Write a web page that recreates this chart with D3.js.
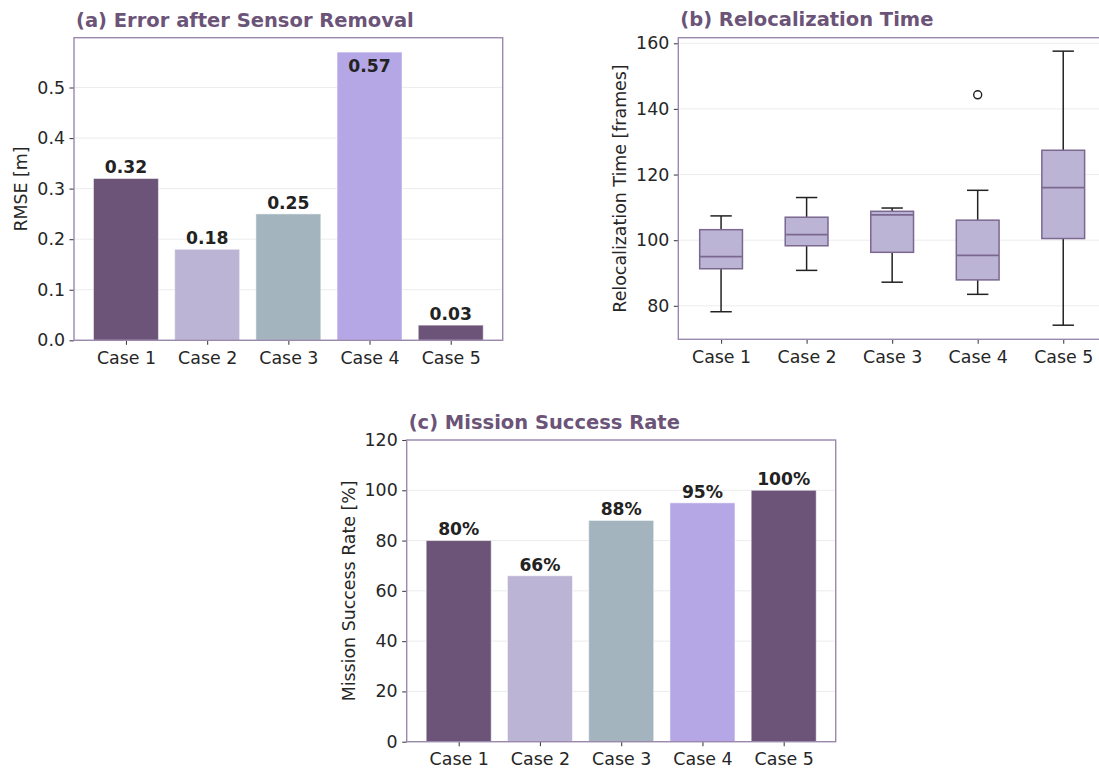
<!DOCTYPE html>
<html>
<head>
<meta charset="utf-8">
<script src="https://cdn.jsdelivr.net/npm/d3@7"></script>
<style>
  html, body { margin: 0; padding: 0; background: #fff; }
  svg { display: block; font-family: "DejaVu Sans", sans-serif; }
</style>
</head>
<body>
<svg id="chart" width="1099" height="772"></svg>
<script>
// ---------------- data ----------------
const cases = ["Case 1", "Case 2", "Case 3", "Case 4", "Case 5"];
const rmseValues = [0.32, 0.18, 0.25, 0.57, 0.03];
const successValues = [80, 66, 88, 95, 100];
const relocLowWhisker = [78.2, 90.8, 87.2, 83.5, 74.1];
const relocQ1 = [91.3, 98.3, 96.3, 87.9, 100.5];
const relocMedian = [95.0, 101.7, 107.7, 95.4, 116.0];
const relocQ3 = [103.2, 107.0, 108.8, 106.1, 127.4];
const relocHighWhisker = [107.4, 113.0, 109.8, 115.2, 157.6];
const relocOutliers = [[], [], [], [144.3], []];
const rmseTicks = [0.0, 0.1, 0.2, 0.3, 0.4, 0.5];
const relocTicks = [80, 100, 120, 140, 160];
const successTicks = [0, 20, 40, 60, 80, 100, 120];
const barColors = ["#6b5478", "#bcb4d4", "#a3b4be", "#b5a6e5", "#6b5478"];

// ---------------- style ----------------
const TITLE_COLOR = "#6b5478";
const SPINE_COLOR = "#9a88ad";
const TEXT_COLOR = "#262626";
const GRID_COLOR = "#ececec";
const TICK_FS = 17.4;
const TITLE_FS = 19.5;
const LABEL_FS = 17.2;

const svg = d3.select("#chart");

function panel(cfg) {
  const g = svg.append("g");
  const x = d3.scaleLinear().domain(cfg.xDomain).range([cfg.left, cfg.right]);
  const y = d3.scaleLinear().domain(cfg.yDomain).range([cfg.bottom, cfg.top]);

  // grid
  g.append("g").selectAll("line").data(cfg.yTicks).join("line")
    .attr("x1", cfg.left).attr("x2", cfg.right)
    .attr("y1", d => y(d)).attr("y2", d => y(d))
    .attr("stroke", GRID_COLOR).attr("stroke-width", 1);

  const marks = g.append("g");

  // axes
  const xAxis = g.append("g").attr("transform", `translate(0,${cfg.bottom})`)
    .call(d3.axisBottom(x).tickValues(cfg.xTicks).tickFormat((d, i) => cases[i]).tickSize(4.5).tickSizeOuter(0));
  const yAxis = g.append("g").attr("transform", `translate(${cfg.left},0)`)
    .call(d3.axisLeft(y).tickValues(cfg.yTicks).tickFormat(cfg.yFormat).tickSize(4.5).tickSizeOuter(0));
  [xAxis, yAxis].forEach(a => {
    a.select(".domain").remove();
    a.selectAll(".tick line").attr("stroke", "#444").attr("stroke-width", 1.1);
    a.selectAll(".tick text").attr("fill", TEXT_COLOR)
      .style("font-size", TICK_FS + "px").style("font-family", "DejaVu Sans");
  });
  xAxis.selectAll(".tick text").attr("dy", null).attr("y", 23.7);
  yAxis.selectAll(".tick text").attr("x", -9);

  // spines (frame)
  g.append("rect")
    .attr("x", cfg.left).attr("y", cfg.top)
    .attr("width", cfg.right - cfg.left).attr("height", cfg.bottom - cfg.top)
    .attr("fill", "none").attr("stroke", SPINE_COLOR).attr("stroke-width", 1.4);

  // title
  g.append("text").attr("x", cfg.left + 2).attr("y", cfg.titleY)
    .attr("fill", TITLE_COLOR).style("font-weight", "bold")
    .style("font-size", TITLE_FS + "px").text(cfg.title);

  // y label
  g.append("text")
    .attr("transform", `translate(${cfg.yLabelX},${(cfg.top + cfg.bottom) / 2}) rotate(-90)`)
    .attr("text-anchor", "middle").attr("fill", TEXT_COLOR)
    .style("font-size", TICK_FS + "px").text(cfg.yLabel);

  return { g: marks, x, y };
}

function bars(p, values, fmt, cfg) {
  const bw = 0.8;
  p.g.selectAll("rect.bar").data(values).join("rect").attr("class", "bar")
    .attr("x", (d, i) => p.x(i - bw / 2))
    .attr("width", p.x(bw) - p.x(0))
    .attr("y", d => p.y(d))
    .attr("height", d => p.y(0) - p.y(d))
    .attr("fill", (d, i) => barColors[i])
    .attr("stroke", "#ffffff").attr("stroke-opacity", 0.5).attr("stroke-width", 1);
  p.g.selectAll("text.lbl").data(values).join("text").attr("class", "lbl")
    .attr("x", (d, i) => p.x(i))
    .attr("y", d => {
      const top = p.y(d);
      return (top - 24 < cfg.top) ? top + 19.6 : top - 5.2;
    })
    .attr("text-anchor", "middle").attr("fill", "#222")
    .style("font-weight", "bold").style("font-size", LABEL_FS + "px")
    .text(fmt);
}

// ---------------- (a) ----------------
const cfgA = {
  left: 74, right: 502.7, top: 37.7, bottom: 340.3,
  xDomain: [-0.64, 4.64], yDomain: [0, 0.5985],
  xTicks: [0, 1, 2, 3, 4], yTicks: rmseTicks, yFormat: d3.format(".1f"),
  title: "(a) Error after Sensor Removal", titleY: 26.5,
  yLabel: "RMSE [m]", yLabelX: 27
};
const pA = panel(cfgA);
bars(pA, rmseValues, d => d3.format(".2f")(d), cfgA);

// ---------------- (b) ----------------
const cfgB = {
  left: 678.3, right: 1106, top: 37.7, bottom: 339.3,
  xDomain: [0.5, 5.5], yDomain: [69.8, 161.7],
  xTicks: [1, 2, 3, 4, 5], yTicks: relocTicks, yFormat: d3.format("d"),
  title: "(b) Relocalization Time", titleY: 26,
  yLabel: "Relocalization Time [frames]", yLabelX: 626
};
const pB = panel(cfgB);
{
  const bw = 0.5, cw = 0.25;
  const idx = d3.range(cases.length);
  const px = i => pB.x(i + 1);
  const gB = pB.g;
  // whiskers
  gB.selectAll("line.wl").data(idx).join("line")
    .attr("x1", px).attr("x2", px)
    .attr("y1", i => pB.y(relocQ1[i])).attr("y2", i => pB.y(relocLowWhisker[i]))
    .attr("stroke", "#222").attr("stroke-width", 1.5);
  gB.selectAll("line.wh").data(idx).join("line")
    .attr("x1", px).attr("x2", px)
    .attr("y1", i => pB.y(relocQ3[i])).attr("y2", i => pB.y(relocHighWhisker[i]))
    .attr("stroke", "#222").attr("stroke-width", 1.5);
  // caps
  gB.selectAll("line.cl").data(idx).join("line")
    .attr("x1", i => pB.x(i + 1 - cw / 2)).attr("x2", i => pB.x(i + 1 + cw / 2))
    .attr("y1", i => pB.y(relocLowWhisker[i])).attr("y2", i => pB.y(relocLowWhisker[i]))
    .attr("stroke", "#222").attr("stroke-width", 1.5);
  gB.selectAll("line.ch").data(idx).join("line")
    .attr("x1", i => pB.x(i + 1 - cw / 2)).attr("x2", i => pB.x(i + 1 + cw / 2))
    .attr("y1", i => pB.y(relocHighWhisker[i])).attr("y2", i => pB.y(relocHighWhisker[i]))
    .attr("stroke", "#222").attr("stroke-width", 1.5);
  // boxes
  gB.selectAll("rect.box").data(idx).join("rect")
    .attr("x", i => pB.x(i + 1 - bw / 2)).attr("width", pB.x(bw) - pB.x(0))
    .attr("y", i => pB.y(relocQ3[i])).attr("height", i => pB.y(relocQ1[i]) - pB.y(relocQ3[i]))
    .attr("fill", "#bcb4d4").attr("stroke", "#7a6890").attr("stroke-width", 1.5);
  // medians
  gB.selectAll("line.med").data(idx).join("line")
    .attr("x1", i => pB.x(i + 1 - bw / 2)).attr("x2", i => pB.x(i + 1 + bw / 2))
    .attr("y1", i => pB.y(relocMedian[i])).attr("y2", i => pB.y(relocMedian[i]))
    .attr("stroke", "#7a6890").attr("stroke-width", 1.8);
  // outliers
  const outs = [];
  relocOutliers.forEach((arr, i) => arr.forEach(v => outs.push({ i, v })));
  gB.selectAll("circle.out").data(outs).join("circle")
    .attr("cx", d => pB.x(d.i + 1)).attr("cy", d => pB.y(d.v)).attr("r", 4)
    .attr("fill", "none").attr("stroke", "#222").attr("stroke-width", 1.4);
}

// ---------------- (c) ----------------
const cfgC = {
  left: 406.7, right: 835.7, top: 440, bottom: 741.7,
  xDomain: [-0.64, 4.64], yDomain: [0, 120],
  xTicks: [0, 1, 2, 3, 4], yTicks: successTicks, yFormat: d3.format("d"),
  title: "(c) Mission Success Rate", titleY: 429.3,
  yLabel: "Mission Success Rate [%]", yLabelX: 355
};
const pC = panel(cfgC);
bars(pC, successValues, d => d + "%", cfgC);
</script>
</body>
</html>
